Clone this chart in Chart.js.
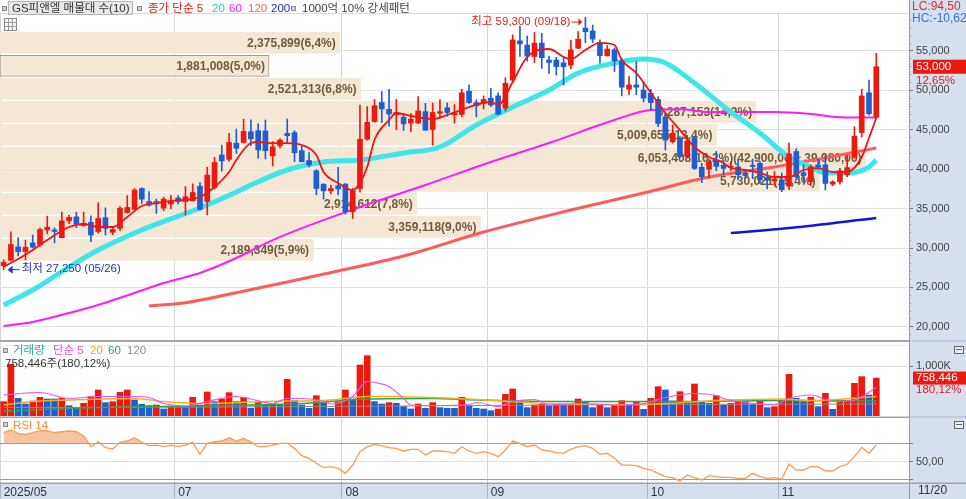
<!DOCTYPE html>
<html lang="ko"><head><meta charset="utf-8">
<script src="https://cdn.jsdelivr.net/npm/chart.js@4.4.1/dist/chart.umd.min.js"></script>
<style>
html,body{margin:0;padding:0;background:#fff;overflow:hidden}
#wrap{position:relative;width:966px;height:499px;background:#fff;overflow:hidden}
#wrap canvas{position:absolute;left:0}
#rp{position:absolute;left:909px;top:0;width:57px;height:499px;background:#d5dfee}
#bs{position:absolute;left:0;top:484px;width:966px;height:15px;background:#d5dfee}
</style></head><body>
<div id="wrap"><div id="rp"></div><div id="bs"></div>
<canvas id="cMain" width="966" height="342" style="top:0"></canvas>
<canvas id="cVol" width="966" height="76" style="top:342px"></canvas>
<canvas id="cRsi" width="966" height="81" style="top:418px"></canvas>
</div>
<script>
// ---------- categories ----------
const monthDays = [
 ['2025/05',[26,27,28,29,30]],
 ['2025/06',[2,4,5,9,10,11,12,13,16,17,18,19,20,23,24,25,26,27,30]],
 ['2025/07',[1,2,3,4,7,8,9,10,11,14,15,16,17,18,21,22,23,24,25,28,29,30,31]],
 ['2025/08',[1,4,5,6,7,8,11,12,13,14,18,19,20,21,22,25,26,27,28,29]],
 ['2025/09',[1,2,3,4,5,8,9,10,11,12,15,16,17,18,19,22,23,24,25,26,29,30]],
 ['2025/10',[1,2,10,13,14,15,16,17,20,21,22,23,24,27,28,29,30,31]],
 ['2025/11',[3,4,5,6,7,10,11,12,13,14,17,18,19,20]]
];
const tickMonths = ['2025/05','2025/07','2025/08','2025/09','2025/10','2025/11'];
const emptySlots = 4;
const priceTicks = [20000,25000,30000,35000,40000,45000,50000,55000];
const volTicks = [1000000];
const rsiLines = [30,50,70];

// ---------- price series ----------
const openP = [27750,28450,30150,29550,30650,30400,32300,32300,31300,33450,
33950,32850,33250,32100,33850,32000,32500,34500,34900,37550,
35900,35900,35050,35600,36350,35900,36000,37850,35900,37700,
41800,41250,43300,43400,44750,44900,44850,41700,42950,44550,
44650,42350,41100,39800,38100,37250,37900,38100,34600,37550,
43800,46050,48450,47600,46900,46600,45850,45850,47300,45050,
47100,47800,46900,46950,49900,48450,48350,49000,49300,47750,
51300,56300,55750,54300,56000,53850,53850,53500,53200,55350,
57900,57550,56050,54400,55150,53750,50150,50700,50050,49650,
48850,46650,43500,43900,41600,44000,40250,40000,41150,40500,
40250,40300,39500,40500,40750,38900,38500,38650,37850,42250,
39550,38400,40550,40550,38100,38400,39300,41600,44650,49700,
46600];
const highP = [28500,32050,31300,31000,31650,32550,34050,32550,34550,34150,
34550,34550,34100,35750,35100,32600,35250,36650,37550,37650,
37150,36200,36450,36650,36650,37800,38150,38300,40250,41500,
43050,44550,45100,46350,46250,45800,46250,43500,43900,46350,
44900,42900,42100,39950,38150,38000,40250,38200,37550,48150,
47950,48850,49850,50150,48850,47050,47050,49200,48350,48400,
48800,48400,48200,50150,50700,48800,49300,50250,49700,51600,
57050,58150,56900,57350,57250,54350,54200,54200,56350,57450,
59300,58300,56400,55700,55400,54050,51750,53650,51150,50150,
49200,47100,45600,44150,44300,44200,40750,41300,42250,41150,
40950,41150,40000,41300,41000,39650,39700,39500,43300,42600,
40550,40500,41300,41700,38550,40100,41800,45400,50150,51300,
54700];
const lowP = [27250,28350,29000,28500,30000,30200,31800,30650,31300,33100,
32600,32750,30800,31900,31650,31700,32200,34450,34900,35650,
35300,34400,34750,35000,35600,34200,35950,34800,34200,37500,
39750,41000,42000,43300,43000,41400,41300,40400,42700,43300,
40950,40950,40300,36750,36200,36850,36750,34300,33750,37100,
43700,45950,45900,45450,45000,44900,44750,45800,44950,43050,
46500,46700,45850,46650,48350,46650,47650,47950,46900,47400,
51000,54300,53700,53550,52800,52150,51950,50700,52750,55300,
56050,56050,53450,54350,52400,49300,49450,49450,48550,47500,
45400,42450,43300,41450,41450,39950,38300,38900,39800,39300,
39800,38650,38800,38800,38200,37500,37900,37150,37400,38650,
38200,37900,40000,37350,37900,38100,39050,41350,44100,46850,
46500];
const closeP = [28200,30450,29550,30100,30100,32350,32650,32100,33450,33900,
33050,33150,31650,33750,32500,32350,35050,35150,37350,36200,
35450,35600,36200,35900,35900,36500,37050,34900,39250,40850,
41050,43400,42650,44800,43850,42450,42350,42850,43700,44250,
42100,40950,40550,37550,37250,37550,37500,34600,37250,43800,
45950,48050,47650,47000,47200,45750,46350,47400,44950,47200,
47300,47200,47200,49700,48450,48050,48850,48150,47000,50900,
56400,55900,54350,56000,54150,53550,53000,53000,55150,56500,
57450,56500,54400,55250,53750,50400,50700,50400,49000,48450,
45800,43700,44550,41600,43600,40100,39050,40950,40350,40100,
40350,39300,39200,40350,38650,38600,38750,37400,41950,39050,
39200,40300,40250,38200,38400,39800,40200,44200,49300,47050,
53000];

// moving averages (category index -> value)
const ma5Idx = [0,2,4,6,9,11,13,15,17,19,21,23,26,27,29,31,32,34,35,37,39,41,43,44,46,48,49,50,51,53,54,56,59,61,64,67,68,70,72,75,77,78,80,82,84,85,87,89,91,93,95,97,99,100,101,104,106,108,110,112,114,116,118,119,120];
const ma5Val = [27630,28600,29750,31020,32670,33050,32670,32670,33940,35330,35710,35970,36220,36470,37740,39640,41170,43320,43450,43320,43320,43070,41800,39640,38250,37360,38250,40280,43710,46240,47130,46750,46370,46880,47890,48530,48150,51070,54240,55250,54240,53980,55130,56020,55760,53860,52210,49670,47130,44970,42820,41550,40790,40150,40030,39520,39010,39010,39900,40150,39640,39640,41550,43960,46500];
const ma20Idx = [0,4,9,13,19,27,32,34,39,44,49,55,60,65,70,75,79,84,88,91,95,100,104,108,111,113,116,119,120];
const ma20Val = [22770,24670,27590,29750,32290,35080,37110,38000,39900,40910,41170,42060,42820,45610,47890,50050,52210,53480,53980,53480,50940,47260,44590,41550,40280,39520,39520,40280,41170];
const ma60Idx = [0,4,9,13,18,22,27,32,37,49,58,67,75,84,89,93,97,106,111,115,120];
const ma60Val = [20100,20610,21750,22770,24290,25560,26830,28730,31010,35200,37990,40910,43320,46240,47510,47600,47260,47260,47010,46600,46550];
const ma120Idx = [20,25,32,39,46,55,66,78,88,97,106,115,120];
const ma120Val = [22640,23060,24330,25690,27080,28990,32030,34820,36980,39010,40280,41800,42690];
const ma200Idx = [100,108,120];
const ma200Val = [31900,32540,33810];

// volume profile (매물대), bottom to top
const bandEdges = [28300,31220,34140,37060,39980,42900,45820,48740,51660,54580,57500];
const bandVol = [2189349,3359118,2914612,5730021,6053408,5009655,5287153,2521313,1881008,2375899];

// ---------- volume ----------
const volume = [287000,1033000,353000,240000,300000,373000,340000,340000,353000,207000,
153000,253000,387000,520000,267000,287000,473000,520000,320000,233000,
207000,220000,140000,200000,200000,187000,373000,220000,480000,287000,
340000,467000,287000,373000,153000,287000,220000,253000,220000,733000,
307000,220000,153000,407000,253000,153000,287000,520000,340000,1020000,
1207000,287000,240000,267000,253000,187000,140000,240000,153000,267000,
167000,153000,153000,373000,207000,153000,140000,107000,140000,433000,
540000,300000,167000,220000,253000,207000,253000,220000,233000,340000,
273000,167000,220000,167000,220000,307000,220000,273000,133000,353000,
587000,520000,300000,487000,273000,640000,287000,253000,407000,220000,
253000,287000,287000,240000,300000,167000,187000,300000,833000,353000,
287000,373000,187000,453000,133000,300000,300000,653000,787000,421078,
758446];
const volDir = 'rrbbrrbbrbbrrrbrrrbbbrbrrbrbrbrrbrbrbrbrbbbrbbrrbrrbbrbbbrbrbbbrbbbbrrrbbrrbrbrrbbrbrrbrbrrbbrbrbbrbrrbbrbrrrbbrbrbrrrrbr';
const vma5Idx = [0,5,9,13,18,20,22,25,28,32,34,37,39,41,44,45,48,50,51,53,55,56,59,64,65,68,70,73,75,79,84,88,91,95,98,99,102,106,108,111,114,117,120];
const vma5K = [420,470,350,390,390,370,250,200,290,390,340,250,350,350,290,240,390,690,670,590,350,220,210,230,270,190,290,330,220,250,220,250,370,450,410,350,270,220,350,420,290,320,570];
const vma20Idx = [0,4,9,18,22,27,36,45,50,59,65,75,88,98,107,111,120];
const vma20K = [220,290,320,350,290,250,290,320,390,370,330,250,230,310,340,310,390];
const vma60Idx = [0,13,27,41,50,59,65,79,93,107,120];
const vma60K = [100,170,200,250,340,350,320,290,290,310,300];
const vma120Idx = [0,30,65,90,120];
const vma120K = [170,180,210,230,240];

// ---------- RSI 14 ----------
const rsi = [81.6,84.5,80.9,79.8,81.6,83.7,83.7,81.6,82.6,83.4,
82.6,78,66.3,71.7,65.2,63.8,71.1,72.5,76.1,71.1,
67.4,68.1,66.3,68.1,66.3,68.1,71.1,58,70,71.7,
72.5,76.1,72.5,75.4,71.7,66.3,66.3,68.1,70,70,
64.5,56.5,53.6,48.2,43.4,44.5,42.7,37.3,46.3,60.9,
66.3,68.9,67.1,65.2,64.5,61.6,63.4,63.4,57.2,61.6,
61.6,60.9,59.1,66.3,61.6,59.1,60.9,59.1,55.4,62.7,
72.5,70,66.3,68.1,62.7,61.6,59.8,59.1,63.4,66.3,
67.4,64.5,58,59.1,53.6,46.3,46.3,45.6,42.7,40.9,
37.3,33.6,32.5,28.9,35.5,32.5,30,34.7,33.6,32.9,
32.9,31.8,31.8,37.3,33.6,31.8,32.5,31.1,47.4,40.9,
40.9,44.5,44.5,39.8,39.8,44.5,47.1,55.4,65.6,59.1,
68.1];

// ---------- build ----------
const RED='#ec1a0e', BLUE='#1d5fd3';
const FONT="'Liberation Sans','Noto Sans CJK KR',sans-serif";
const labels = [];
monthDays.forEach(([ym, ds]) => ds.forEach(d => labels.push(ym + '/' + String(d).padStart(2,'0'))));
const N = labels.length;
const xLabels = labels.concat(new Array(emptySlots).fill(''));
const monthStart = {};
tickMonths.forEach((m,k) => { const i = labels.findIndex(l => l.startsWith(m)); monthStart[i] = k===0 ? m : m.slice(5); });
function sparse(idx, vals, mul){ const a = new Array(N).fill(null); idx.forEach((k,j)=>{ a[k] = vals[j]*(mul||1); }); return a; }
const fmt = v => Math.round(v).toLocaleString('en-US');
const dec = v => fmt(v) + ',00';

const bandTotal = bandVol.reduce((a,b)=>a+b,0);
const bandMaxVol = Math.max(...bandVol);
const maxBand = bandVol.indexOf(bandMaxVol);
const lastClose = closeP[N-1], prevClose = closeP[N-2];
const curBand = bandEdges.findIndex((e,i)=> i < bandVol.length && lastClose >= e && lastClose < bandEdges[i+1]);
const pMin = 18330, pMax = 59820;
const minorTicks = [];
for (let v = Math.ceil(pMin/1000)*1000; v <= pMax; v += 1000) minorTicks.push(v);

const isMonth = c => Object.prototype.hasOwnProperty.call(monthStart, c.index);
function xScale(show){
  return {type:'category', offset:true,
    grid:{offset:true, color:c=> isMonth(c) ? '#d6d6d6' : 'rgba(0,0,0,0)', drawTicks:show, tickLength:16,
      tickColor:c=> isMonth(c) ? '#a9b3c3' : 'rgba(0,0,0,0)'},
    border:{display:false},
    ticks:{display:show, autoSkip:false, maxRotation:0, minRotation:0, align:'start', padding:-13, color:'#333',
      font:{family:FONT,size:12}, callback:(v,i)=> monthStart[i] || ''},
    afterFit:s=>{ s.height = show ? 17 : 0; s.paddingLeft=0; s.paddingRight=0; }
  };
}
function fitRight(s){ s.width = 57; s.paddingTop = 0; s.paddingBottom = 0; }
function lineDS(data, color, width, order){
  return {type:'line', data, borderColor:color, borderWidth:width, pointRadius:0, spanGaps:true,
    tension:0.4, cubicInterpolationMode:'monotone', fill:false, xAxisID:'x', yAxisID:'y', order};
}
function sq(ctx,x,y){ ctx.fillStyle='#8a8a8a'; ctx.fillRect(x,y,5,5); ctx.fillStyle='#cfcfcf'; ctx.fillRect(x+1,y+1,3,3); }
function txt(ctx,s,x,y,color,size,align,weight){
  ctx.font=(weight||'')+' '+size+'px '+FONT; ctx.fillStyle=color; ctx.textAlign=align||'left'; ctx.textBaseline='middle'; ctx.fillText(s,x,y);
}
function icon(ctx,x,y){ ctx.fillStyle='#eeeeee'; ctx.fillRect(x,y,9,7); ctx.strokeStyle='#666'; ctx.lineWidth=1; ctx.strokeRect(x+0.5,y+0.5,9,7); ctx.fillStyle='#666'; ctx.fillRect(x+2,y+3,6,1); }

const mainPlugin = {
  id:'mainDeco',
  beforeDatasetsDraw(chart){
    const ctx=chart.ctx, ca=chart.chartArea;
    ctx.save(); ctx.fillStyle='#dadada'; ctx.fillRect(ca.left, ca.top, ca.right-ca.left, 1); ctx.restore();
  },
  afterDatasetDraw(chart,args){
    if(args.index!==0) return;
    const ctx=chart.ctx, xs=chart.scales.xv, ys=chart.scales.y;
    ctx.save();
    bandVol.forEach((v,i)=>{
      const mid=(bandEdges[i]+bandEdges[i+1])/2;
      let s = fmt(v)+'('+(v/bandTotal*100).toFixed(1).replace('.',',')+'%)';
      if(i===maxBand) s += '('+dec(bandEdges[i+1])+' ~ '+dec(bandEdges[i])+')';
      txt(ctx, s, xs.getPixelForValue(v)-4, ys.getPixelForValue(mid)+1, '#6e5b3a', 12, 'right', 'bold');
    });
    ctx.restore();
  },
  afterDraw(chart){
    const ctx=chart.ctx, xs=chart.scales.x, ys=chart.scales.y, ca=chart.chartArea;
    ctx.save();
    ctx.fillStyle='#a4a4a4'; ctx.fillRect(0,340,ca.right,2);
    ctx.fillStyle='#b4bccb'; ctx.fillRect(ca.right,340.5,57,1);
    ctx.fillStyle='#9a9a9a'; ctx.fillRect(ca.right,0,1,342);
    sq(ctx,2,6);
    ctx.fillStyle='#e8e8e8'; ctx.fillRect(8,1,124,14); ctx.strokeStyle='#b5b5b5'; ctx.lineWidth=1; ctx.strokeRect(8.5,1.5,124,13);
    txt(ctx,'GS피앤엘 매물대 수(10)',12,8.5,'#333',11.5);
    sq(ctx,137,6);
    txt(ctx,'종가 단순 5',148,8.5,RED,11.5);
    txt(ctx,'20',212,8.5,'#13d6de',11.5);
    txt(ctx,'60',229,8.5,'#ff1cff',11.5);
    txt(ctx,'120',248,8.5,'#ff6464',11.5);
    txt(ctx,'200',271,8.5,'#2323f0',11.5);
    sq(ctx,291,6);
    txt(ctx,'1000억 10% 강세패턴',302,8.5,'#444',11.5);
    ctx.fillStyle='#f4f4f4'; ctx.fillRect(4,18,12,12); ctx.strokeStyle='#8a8a8a'; ctx.strokeRect(4.5,18.5,12,12);
    ctx.fillStyle='#a0a0a0'; ctx.fillRect(5,22,11,1); ctx.fillRect(5,26,11,1); ctx.fillRect(8,19,1,11); ctx.fillRect(12,19,1,11);
    let hi=0, lo=0; highP.forEach((v,i)=>{ if(v>highP[hi]) hi=i; }); lowP.forEach((v,i)=>{ if(v<lowP[lo]) lo=i; });
    const hx=xs.getPixelForValue(hi), hy=ys.getPixelForValue(highP[hi])+4.5;
    txt(ctx,'최고 '+fmt(highP[hi])+' ('+labels[hi].slice(5)+')',hx-15,hy,'#e82020',11.5,'right');
    ctx.strokeStyle='#e82020'; ctx.lineWidth=1; ctx.beginPath(); ctx.moveTo(hx-14,hy+0.5); ctx.lineTo(hx-6,hy+0.5); ctx.stroke();
    ctx.fillStyle='#e82020'; ctx.beginPath(); ctx.moveTo(hx-3,hy+0.5); ctx.lineTo(hx-7,hy-3); ctx.lineTo(hx-7,hy+4); ctx.fill();
    const lx=xs.getPixelForValue(lo), ly=ys.getPixelForValue(lowP[lo])-0.5;
    ctx.strokeStyle='#1e2ee0'; ctx.beginPath(); ctx.moveTo(lx+8,ly+0.5); ctx.lineTo(lx+16,ly+0.5); ctx.stroke();
    ctx.fillStyle='#1e2ee0'; ctx.beginPath(); ctx.moveTo(lx+4,ly+0.5); ctx.lineTo(lx+9,ly-3.5); ctx.lineTo(lx+9,ly+4.5); ctx.fill();
    txt(ctx,'최저 '+fmt(lowP[lo])+' ('+labels[lo].slice(5)+')',lx+18,ly,'#1e2ee0',11.5);
    txt(ctx,'LC:94,50',912,7,'#e03030',12);
    txt(ctx,'HC:-10,62',912,18.5,'#3b6fd8',12);
    const py=ys.getPixelForValue(lastClose);
    ctx.fillStyle=RED; ctx.fillRect(913,py-7,53,14);
    txt(ctx,fmt(lastClose),916,py,'#ffffff',11.5);
    txt(ctx,((lastClose-prevClose)/prevClose*100).toFixed(2).replace('.',',')+'%',916,py+14,'#e02020',11.5);
    ctx.restore();
  }
};

new Chart(document.getElementById('cMain'), {
  type:'bar',
  data:{labels:xLabels, datasets:[
    {type:'bar', indexAxis:'y', xAxisID:'xv', yAxisID:'y', order:100, grouped:false, barThickness:21,
     data: bandVol.map((v,i)=>({x:[0,v], y:(bandEdges[i]+bandEdges[i+1])/2})),
     backgroundColor:'#f4e7d6', borderColor:'#9c9c9c', borderSkipped:false,
     borderWidth: c => c.dataIndex===curBand ? 1 : 0},
    lineDS(sparse(ma120Idx,ma120Val),'#ff5b5b',3,60),
    lineDS(sparse(ma60Idx,ma60Val),'#ff1aff',2,55),
    lineDS(sparse(ma200Idx,ma200Val),'#1414e0',2.5,54),
    lineDS(sparse(ma20Idx,ma20Val),'#3ee6ec',5,50),
    {type:'bar', xAxisID:'x', yAxisID:'y', order:20, grouped:false, barThickness:1, minBarLength:1,
     data: lowP.map((l,i)=>[l, highP[i]]),
     backgroundColor: c => closeP[c.dataIndex] >= openP[c.dataIndex] ? RED : BLUE},
    {type:'bar', xAxisID:'x', yAxisID:'y', order:15, grouped:false, barThickness:5, minBarLength:1,
     data: openP.map((o,i)=>[o, closeP[i]]),
     backgroundColor: c => closeP[c.dataIndex] >= openP[c.dataIndex] ? RED : BLUE},
    lineDS(sparse(ma5Idx,ma5Val),'#f01515',1.8,5)
  ]},
  options:{
    responsive:false, animation:false, events:[],
    layout:{padding:{top:13,bottom:2,left:0,right:0}},
    plugins:{legend:{display:false}, tooltip:{enabled:false}},
    scales:{
      x: xScale(false),
      xv:{type:'linear', axis:'x', position:'bottom', display:false, offset:false, grid:{offset:false},
        min:0, max:bandMaxVol*1.05},
      yMinor:{type:'linear', position:'right', weight:0, offset:false, min:pMin, max:pMax,
        afterBuildTicks:s=>{ s.ticks = minorTicks.map(v=>({value:v})); },
        ticks:{display:false},
        grid:{drawOnChartArea:false, offset:false, tickLength:2, color:'#8a8a8a'}, border:{display:false},
        afterFit:s=>{ s.width=0; s.paddingTop=0; s.paddingBottom=0; }},
      y:{type:'linear', position:'right', weight:1, offset:false, min:pMin, max:pMax,
        afterBuildTicks:s=>{ s.ticks = priceTicks.map(v=>({value:v})); },
        ticks:{padding:3, color:'#444', font:{family:FONT,size:11}, callback:v=>fmt(v)},
        grid:{offset:false, color:'#e2e2e2', tickLength:4, tickColor:'#7a7a7a'}, border:{display:false},
        afterFit:fitRight}
    }
  },
  plugins:[mainPlugin]
});

// ---------- volume panel ----------
const lastVol = volume[N-1], prevVol = volume[N-2];
const volPlugin = {
  id:'volDeco',
  afterDraw(chart){
    const ctx=chart.ctx, ys=chart.scales.y, ca=chart.chartArea;
    ctx.save();
    ctx.fillStyle='#a4a4a4'; ctx.fillRect(0,74.5,ca.right,1.5);
    ctx.fillStyle='#b4bccb'; ctx.fillRect(ca.right,74.5,57,1);
    ctx.fillStyle='#9a9a9a'; ctx.fillRect(ca.right,0,1,76);
    ctx.fillStyle='#ececec'; ctx.fillRect(0,ca.top+2,ca.right,1);
    sq(ctx,3,6);
    txt(ctx,'거래량',13,8.5,'#37a4a4',11.5);
    txt(ctx,'단순 5',53,8.5,'#e64ee6',11.5);
    txt(ctx,'20',90,8.5,'#f0a800',11.5);
    txt(ctx,'60',108,8.5,'#2aa84a',11.5);
    txt(ctx,'120',127,8.5,'#909090',11.5);
    const pct=(lastVol/prevVol*100).toFixed(2).replace('.',',');
    txt(ctx,fmt(lastVol)+'주('+pct+'%)',5,21.5,'#333',11.5);
    const vy=ys.getPixelForValue(lastVol);
    ctx.fillStyle=RED; ctx.fillRect(913,vy-6.5,53,13);
    txt(ctx,fmt(lastVol),916,vy,'#ffffff',11.5);
    txt(ctx,pct+'%',916,vy+12,'#e02020',11.5);
    icon(ctx,954,4);
    ctx.restore();
  }
};
new Chart(document.getElementById('cVol'), {
  type:'bar',
  data:{labels:xLabels, datasets:[
    lineDS(sparse(vma120Idx,vma120K,1000),'#8c8c8c',1,4),
    lineDS(sparse(vma60Idx,vma60K,1000),'#2aa84a',1.5,3),
    lineDS(sparse(vma20Idx,vma20K,1000),'#f2b01e',1.5,2),
    lineDS(sparse(vma5Idx,vma5K,1000),'#ee55ee',1.2,1),
    {type:'bar', xAxisID:'x', yAxisID:'y', order:10, barThickness:6, data:volume,
     backgroundColor: c => volDir[c.dataIndex]==='r' ? RED : BLUE}
  ]},
  options:{
    responsive:false, animation:false, events:[],
    layout:{padding:{top:1,bottom:2,left:0,right:0}},
    plugins:{legend:{display:false}, tooltip:{enabled:false}},
    scales:{
      x: xScale(false),
      y:{type:'linear', position:'right', offset:false, min:0, max:1460000,
        afterBuildTicks:s=>{ s.ticks = volTicks.map(v=>({value:v})); },
        ticks:{padding:3, color:'#444', font:{family:FONT,size:11},
          callback:v=> fmt(v/1000)+'K'},
        grid:{offset:false, color:'#e2e2e2', tickLength:4, tickColor:'#7a7a7a'},
        border:{display:false}, afterFit:fitRight}
    }
  },
  plugins:[volPlugin]
});

// ---------- RSI panel ----------
const rsiPlugin = {
  id:'rsiDeco',
  afterDraw(chart){
    const ctx=chart.ctx, ca=chart.chartArea;
    ctx.save();
    ctx.fillStyle='#9a9a9a'; ctx.fillRect(ca.right,0,1,81);
    ctx.fillStyle='#a4a4a4'; ctx.fillRect(0,ca.bottom+0.5,966,1.5);
    sq(ctx,3,4);
    txt(ctx,'RSI 14',13,7.5,'#ff8a3c',11.5);
    txt(ctx,labels[N-1].slice(5),918,73,'#333',12);
    icon(ctx,954,3);
    ctx.restore();
  }
};
new Chart(document.getElementById('cRsi'), {
  type:'line',
  data:{labels:xLabels, datasets:[
    {type:'line', data:rsi, borderColor:'#ff9a55', borderWidth:1.3, pointRadius:0, tension:0,
     xAxisID:'x', yAxisID:'y',
     fill:{target:{value:70}, above:'#f7c4a2', below:'rgba(0,0,0,0)'}}
  ]},
  options:{
    responsive:false, animation:false, events:[],
    layout:{padding:{top:0,bottom:0,left:0,right:0}},
    plugins:{legend:{display:false}, tooltip:{enabled:false}},
    scales:{
      x: xScale(true),
      y:{type:'linear', position:'right', offset:false, min:27.8, max:97.6,
        afterBuildTicks:s=>{ s.ticks = rsiLines.map(v=>({value:v})); },
        ticks:{padding:3, color:'#444', font:{family:FONT,size:11},
          callback:v=> v===50 ? '50,00' : ''},
        grid:{offset:false, color:c=> (c.tick && c.tick.value===50) ? '#dedede' : '#9c9c9c', tickLength:4, tickColor:'#7a7a7a'},
        border:{display:false}, afterFit:fitRight}
    }
  },
  plugins:[rsiPlugin]
});
</script></body></html>
